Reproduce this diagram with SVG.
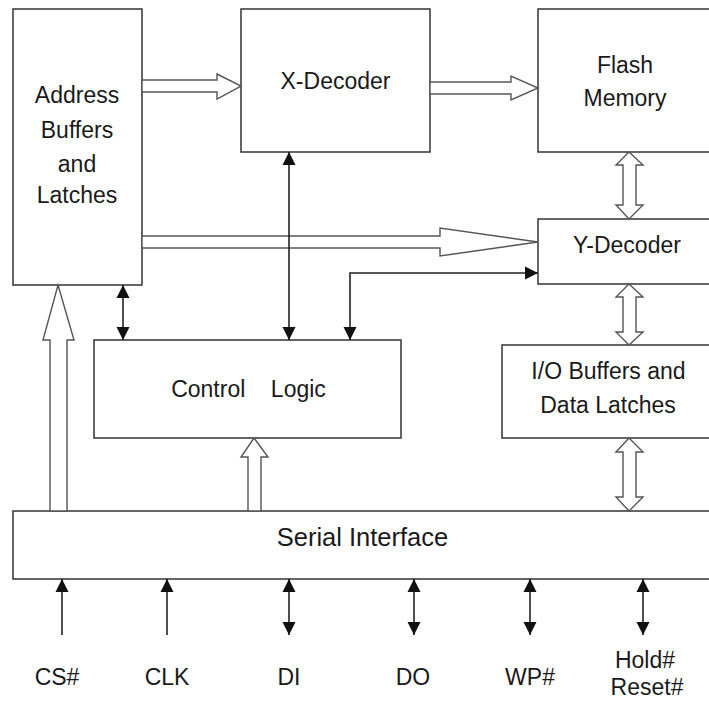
<svg xmlns="http://www.w3.org/2000/svg" width="709" height="708" viewBox="0 0 709 708">
<defs>
<marker id="ah" markerUnits="userSpaceOnUse" markerWidth="14" markerHeight="14" viewBox="0 0 14 14" refX="13" refY="7" orient="auto-start-reverse">
<path d="M0,0.5 L13,7 L0,13.5 Z" fill="#111"/>
</marker>
<style>
.box{fill:#fff;stroke:#333;stroke-width:1.5}
.hol{fill:#fff;stroke:#555;stroke-width:1.4;stroke-linejoin:miter}
.ln{fill:none;stroke:#222;stroke-width:1.6}
.t{font-family:"Liberation Sans",Arial,sans-serif;font-size:23px;fill:#1a1a1a;text-anchor:middle}
</style>
</defs>
<rect width="709" height="708" fill="#fff"/>
<g id="addr">
<rect class="box" x="13" y="9" width="129" height="276"/>
<text class="t" x="77" y="103">Address</text>
<text class="t" x="77" y="138">Buffers</text>
<text class="t" x="77" y="172">and</text>
<text class="t" x="77" y="203">Latches</text>
</g>
<g id="xdec">
<rect class="box" x="241" y="9" width="189" height="143"/>
<text class="t" x="335.5" y="89">X-Decoder</text>
</g>
<g id="flash">
<rect class="box" x="538" y="9" width="180" height="143"/>
<text class="t" x="625" y="73">Flash</text>
<text class="t" x="625" y="106">Memory</text>
</g>
<g id="ydec">
<rect class="box" x="538" y="219" width="180" height="65"/>
<text class="t" x="627" y="253">Y-Decoder</text>
</g>
<g id="ctrl">
<rect class="box" x="94" y="340" width="307" height="98"/>
<text class="t" x="248.5" y="397" style="white-space:pre">Control    Logic</text>
</g>
<g id="io">
<rect class="box" x="502" y="345" width="216" height="93"/>
<text class="t" x="608.5" y="379">I/O Buffers and</text>
<text class="t" x="608" y="413">Data Latches</text>
</g>
<g id="serial">
<rect class="box" x="13" y="511" width="705" height="68"/>
<text class="t" x="362.5" y="546" style="font-size:25.5px">Serial Interface</text>
</g>
<g id="connectors">
<polygon class="hol" points="142,80 217,80 217,74 241,86 217,99 217,92 142,92"/>
<polygon class="hol" points="430,82 511,82 511,76 538,88 511,100 511,94 430,94"/>
<polygon class="hol" points="142,236 440,236 440,228 538,242 440,256 440,248 142,248"/>
<polygon class="hol" points="629,152 643,165 636,165 636,205 643,205 629,219 616,205 623,205 623,165 616,165"/>
<polygon class="hol" points="629,284 643,297 636,297 636,332 643,332 629,345 616,332 623,332 623,297 616,297"/>
<polygon class="hol" points="629,438 643,452 636,452 636,497 643,497 629,511 616,497 623,497 623,452 616,452"/>
<polygon class="hol" points="58,285 74,340 67,340 67,511 50,511 50,340 43,340"/>
<polygon class="hol" points="254,438 268,457 261,457 261,511 248,511 248,457 241,457"/>
<line class="ln" x1="123" y1="285" x2="123" y2="340" marker-start="url(#ah)" marker-end="url(#ah)"/>
<line class="ln" x1="289" y1="152" x2="289" y2="340" marker-start="url(#ah)" marker-end="url(#ah)"/>
<path class="ln" d="M350,340 V273 H538" marker-start="url(#ah)" marker-end="url(#ah)"/>
<line class="ln" x1="62" y1="635" x2="62" y2="579" marker-end="url(#ah)"/>
<line class="ln" x1="167" y1="635" x2="167" y2="579" marker-end="url(#ah)"/>
<line class="ln" x1="289" y1="635" x2="289" y2="579" marker-start="url(#ah)" marker-end="url(#ah)"/>
<line class="ln" x1="414" y1="635" x2="414" y2="579" marker-start="url(#ah)" marker-end="url(#ah)"/>
<line class="ln" x1="530" y1="635" x2="530" y2="579" marker-start="url(#ah)" marker-end="url(#ah)"/>
<line class="ln" x1="643" y1="635" x2="643" y2="579" marker-start="url(#ah)" marker-end="url(#ah)"/>
</g>
<g id="labels">
<text class="t" x="57" y="685">CS#</text>
<text class="t" x="167" y="685">CLK</text>
<text class="t" x="289" y="685">DI</text>
<text class="t" x="413" y="685">DO</text>
<text class="t" x="530" y="685">WP#</text>
<text class="t" x="645" y="668">Hold#</text>
<text class="t" x="647" y="695">Reset#</text>
</g>
</svg>
